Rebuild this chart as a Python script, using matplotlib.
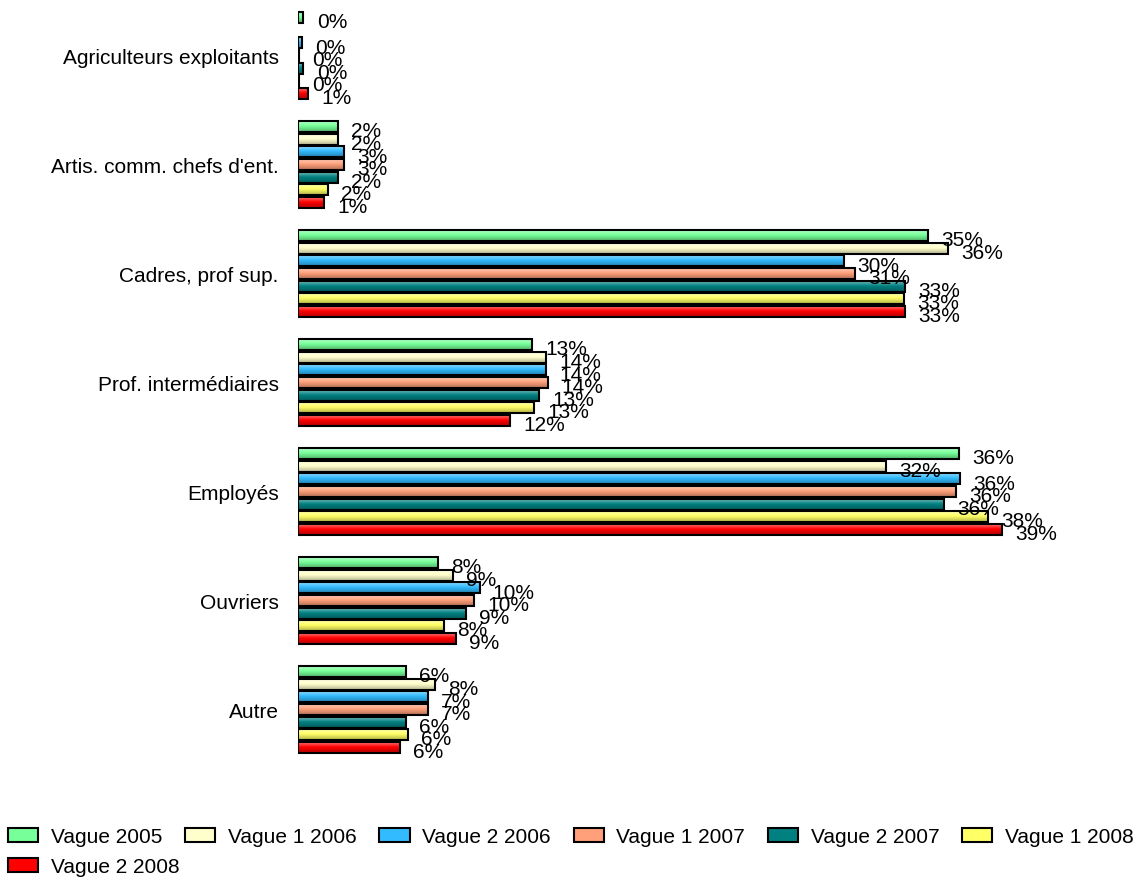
import matplotlib
matplotlib.use("Agg")
import matplotlib.pyplot as plt
from matplotlib.patches import Patch
from matplotlib.colors import to_rgb
import numpy as np

plt.rcParams["font.family"] = "Liberation Sans"

categories = ["Agriculteurs exploitants", "Artis. comm. chefs d'ent.", "Cadres, prof sup.",
              "Prof. intermédiaires", "Employés", "Ouvriers", "Autre"]
series = ["Vague 2005", "Vague 1 2006", "Vague 2 2006", "Vague 1 2007",
          "Vague 2 2007", "Vague 1 2008", "Vague 2 2008"]

# values in %, one list per series (same order as categories); nan = no value
v2005   = [0.3, 2.2, 34.7, 12.9, 36.4, 7.7, 5.95]
v1_2006 = [np.nan, 2.2, 35.8, 13.65, 32.4, 8.55, 7.55]
v2_2006 = [0.2, 2.55, 30.1, 13.65, 36.45, 10.0, 7.15]
v1_2007 = [0.05, 2.55, 30.7, 13.8, 36.25, 9.7, 7.15]
v2_2007 = [0.3, 2.2, 33.45, 13.3, 35.6, 9.25, 5.95]
v1_2008 = [0.05, 1.65, 33.4, 13.0, 38.0, 8.05, 6.05]
v2_2008 = [0.55, 1.45, 33.45, 11.7, 38.8, 8.7, 5.6]
values = [v2005, v1_2006, v2_2006, v1_2007, v2_2007, v1_2008, v2_2008]

colors = ["#77ff99", "#ffffcc", "#33bbff", "#ffa07a", "#008080", "#ffff66", "#ff0000"]


def gradient(col, n=32):
    # light top, base colour in the middle, darker bottom
    base = np.array(to_rgb(col))
    light = base + (1 - base) * 0.45
    dark = base * 0.7
    t = np.linspace(0, 1, n)[:, None]
    g = np.where(t < 0.45, light + (base - light) * (t / 0.45),
                 base + (dark - base) * ((t - 0.45) / 0.55))
    return g[:, None, :]


fig = plt.figure(figsize=(11.41, 8.87), dpi=100)
ax = fig.add_axes([298/1141, 122/887, 726/1141, 763/887])

y = np.arange(len(categories))
step = 0.1153
h = 0.1
for j, (vals, col) in enumerate(zip(values, colors)):
    ypos = y + (j - 3) * step
    img = gradient(col)
    for yy, v in zip(ypos, vals):
        if np.isnan(v):
            continue
        ax.imshow(img, extent=(0, v, yy + h/2, yy - h/2), aspect="auto",
                  interpolation="bilinear", zorder=2)
        ax.barh(yy, v, height=h, facecolor="none", edgecolor="black",
                linewidth=1.5, zorder=3)
        ax.annotate("%d%%" % round(v), (v, yy), xytext=(9.5, -3), textcoords="offset points",
                    ha="left", va="center", fontsize=15, zorder=4)

ax.set_xlim(0, 40)
ax.set_ylim(6.5, -0.5)
ax.set_yticks(y)
ax.set_yticklabels(categories, fontsize=15)
ax.tick_params(axis="y", length=0, pad=14)
ax.set_xticks([])
for s in ax.spines.values():
    s.set_visible(False)

handles = [Patch(facecolor=c, edgecolor="black", linewidth=1.5) for c in colors]
leg_kw = dict(frameon=False, fontsize=15, handlelength=1.45, handleheight=0.65,
              columnspacing=1.1, handletextpad=0.6, borderpad=0, borderaxespad=0)
fig.legend(handles[:6], series[:6], loc="center left", ncol=6,
           bbox_to_anchor=(8/1141, 49/887), **leg_kw)
fig.legend(handles[6:], series[6:], loc="center left", ncol=1,
           bbox_to_anchor=(8/1141, 19/887), **leg_kw)

fig.savefig("out.png", dpi=100)
